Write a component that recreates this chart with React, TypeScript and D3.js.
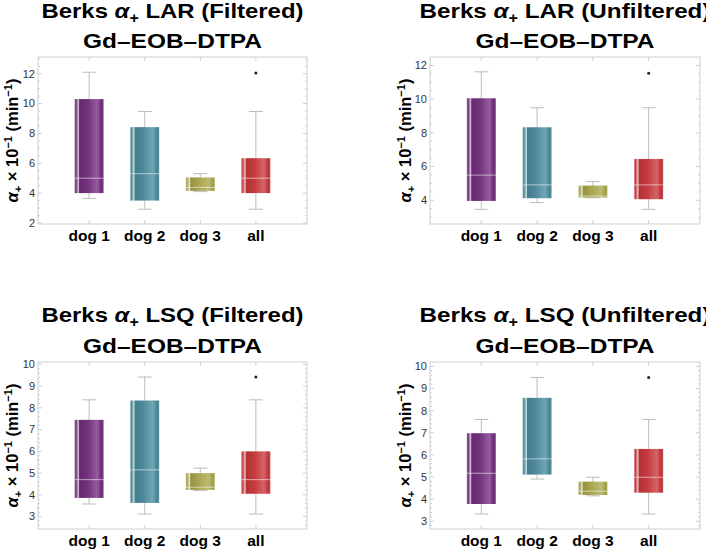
import { useEffect, useRef } from 'react'
import * as d3 from 'd3'

const categories = ['dog 1', 'dog 2', 'dog 3', 'all']
const boxColors = ['#74307f', '#4c8b9c', '#a9a64e', '#c63a3e']

// five-number summaries per category: [min, q1, median, q3, max]
const larFilteredStats = [
  [3.65, 4.0, 5.0, 10.3, 12.1],
  [2.92, 3.5, 5.3, 8.42, 9.47],
  [4.1, 4.15, 4.38, 5.05, 5.3],
  [2.92, 4.0, 5.0, 6.34, 9.47],
]
const larFilteredOutliers = [[], [], [], [12.05]]

const larUnfilteredStats = [
  [3.46, 3.96, 5.49, 10.05, 11.62],
  [3.86, 4.12, 4.91, 8.33, 9.49],
  [4.15, 4.16, 4.25, 4.87, 5.11],
  [3.46, 4.06, 4.91, 6.45, 9.49],
]
const larUnfilteredOutliers = [[], [], [], [11.54]]

const lsqFilteredStats = [
  [3.58, 3.86, 4.7, 7.45, 8.37],
  [3.12, 3.63, 5.15, 8.34, 9.42],
  [4.2, 4.23, 4.35, 5.0, 5.23],
  [3.12, 4.05, 4.7, 6.0, 8.37],
]
const lsqFilteredOutliers = [[], [], [], [9.42]]

const lsqUnfilteredStats = [
  [3.33, 3.78, 5.17, 6.98, 7.6],
  [4.91, 5.11, 5.82, 8.58, 9.5],
  [4.15, 4.19, 4.36, 4.79, 4.99],
  [3.33, 4.29, 4.99, 6.27, 7.6],
]
const lsqUnfilteredOutliers = [[], [], [], [9.5]]

const larTicks = [2, 4, 6, 8, 10, 12]
const larUnfilteredTicks = [4, 6, 8, 10, 12]
const lsqTicks = [3, 4, 5, 6, 7, 8, 9, 10]

const panels = [
  { method: 'LAR', filter: '(Filtered)', stats: larFilteredStats, outliers: larFilteredOutliers,
    domain: [1.93, 13.12], ticks: larTicks, minor: 0.5,
    x0: 38, x1: 307, y0: 57, y1: 224, t1: 17.5, t2: 48, w1: 262, w2: 179, labelX: 18 },
  { method: 'LAR', filter: '(Unfiltered)', stats: larUnfilteredStats, outliers: larUnfilteredOutliers,
    domain: [2.59, 12.5], ticks: larUnfilteredTicks, minor: 0.5,
    x0: 430, x1: 700, y0: 57, y1: 224, t1: 17.5, t2: 48, w1: 291, w2: 179, labelX: 411 },
  { method: 'LSQ', filter: '(Filtered)', stats: lsqFilteredStats, outliers: lsqFilteredOutliers,
    domain: [2.43, 10.11], ticks: lsqTicks, minor: 0.2,
    x0: 38, x1: 307, y0: 362, y1: 529, t1: 321.5, t2: 353, w1: 262, w2: 179, labelX: 18 },
  { method: 'LSQ', filter: '(Unfiltered)', stats: lsqUnfilteredStats, outliers: lsqUnfilteredOutliers,
    domain: [2.65, 10.2], ticks: lsqTicks, minor: 0.2,
    x0: 430, x1: 700, y0: 362, y1: 529, t1: 321.5, t2: 353, w1: 291, w2: 179, labelX: 411 },
]

const FONT = "'Liberation Sans', Arial, Helvetica, sans-serif"

export default function App() {
  const svgRef = useRef<SVGSVGElement>(null)

  useEffect(() => {
    if (!svgRef.current) return
    const svg = d3.select(svgRef.current)
    svg.selectAll('*').remove()

    // glossy gradients for the boxes
    const defs = svg.append('defs')
    boxColors.forEach((c, i) => {
      const base = d3.color(c)!
      const light = d3.interpolateRgb(c, '#ffffff')
      const g = defs.append('linearGradient')
        .attr('id', `box-grad-${i}`)
        .attr('x1', 0).attr('x2', 1).attr('y1', 0).attr('y2', 0)
      const stops: [number, string][] = [
        [0, light(0.25)],
        [0.05, c],
        [0.1, light(0.45)],
        [0.13, light(0.7)],
        [0.17, base.darker(0.35).toString()],
        [0.45, c],
        [0.78, light(0.22)],
        [0.9, c],
        [0.95, base.darker(0.2).toString()],
        [1, light(0.15)],
      ]
      stops.forEach(([o, col]) => {
        g.append('stop').attr('offset', o).attr('stop-color', col)
      })
    })

    panels.forEach(p => {
      const g = svg.append('g')
      const x = d3.scalePoint<string>().domain(categories).range([p.x0, p.x1]).padding(0.92)
      const y = d3.scaleLinear().domain(p.domain).range([p.y1, p.y0])
      const cx = (p.x0 + p.x1) / 2

      // title
      const t1 = g.append('text')
        .attr('x', cx).attr('y', p.t1)
        .attr('text-anchor', 'middle')
        .attr('font-family', FONT).attr('font-weight', 'bold').attr('font-size', 21)
        .attr('textLength', p.w1).attr('lengthAdjust', 'spacingAndGlyphs')
      t1.append('tspan').text('Berks ')
      t1.append('tspan').attr('font-style', 'italic').text('α')
      t1.append('tspan').attr('font-size', 14).attr('dy', 5).text('+')
      t1.append('tspan').attr('dy', -5).text(` ${p.method} ${p.filter}`)

      g.append('text')
        .attr('x', cx).attr('y', p.t2)
        .attr('text-anchor', 'middle')
        .attr('font-family', FONT).attr('font-weight', 'bold').attr('font-size', 21)
        .attr('textLength', p.w2).attr('lengthAdjust', 'spacingAndGlyphs')
        .text('Gd–EOB–DTPA')

      // frame
      g.append('rect')
        .attr('x', p.x0).attr('y', p.y0)
        .attr('width', p.x1 - p.x0).attr('height', p.y1 - p.y0)
        .attr('fill', 'none').attr('stroke', '#cfcfcf').attr('stroke-width', 1)

      // frame ticks, major and minor on both sides
      const minorTicks = d3.range(Math.ceil(p.domain[0] / p.minor) * p.minor, p.domain[1], p.minor)
      minorTicks.forEach(v => {
        const isMajor = p.ticks.some(t => Math.abs(t - v) < 1e-6)
        const len = isMajor ? 4 : 2
        const yy = y(v)
        g.append('line').attr('x1', p.x0).attr('x2', p.x0 + len).attr('y1', yy).attr('y2', yy)
          .attr('stroke', '#cfcfcf')
        g.append('line').attr('x1', p.x1).attr('x2', p.x1 - len).attr('y1', yy).attr('y2', yy)
          .attr('stroke', '#cfcfcf')
      })
      categories.forEach(c => {
        const xx = x(c)!
        g.append('line').attr('x1', xx).attr('x2', xx).attr('y1', p.y1).attr('y2', p.y1 - 4).attr('stroke', '#cfcfcf')
        g.append('line').attr('x1', xx).attr('x2', xx).attr('y1', p.y0).attr('y2', p.y0 + 4).attr('stroke', '#cfcfcf')
      })

      // tick labels
      p.ticks.forEach(t => {
        g.append('text')
          .attr('x', p.x0 - 3).attr('y', y(t)).attr('dy', '0.35em')
          .attr('text-anchor', 'end')
          .attr('font-family', FONT).attr('font-size', 11).attr('fill', '#333')
          .text(t)
      })

      // category labels
      categories.forEach(c => {
        g.append('text')
          .attr('x', x(c)!).attr('y', p.y1 + 17)
          .attr('text-anchor', 'middle')
          .attr('font-family', FONT).attr('font-weight', 'bold').attr('font-size', 15.5)
          .text(c)
      })

      // y label
      const yl = g.append('text')
        .attr('transform', `translate(${p.labelX},${(p.y0 + p.y1) / 2}) rotate(-90)`)
        .attr('text-anchor', 'middle')
        .attr('font-family', FONT).attr('font-weight', 'bold').attr('font-size', 16.5)
      yl.append('tspan').attr('font-style', 'italic').text('α')
      yl.append('tspan').attr('font-size', 11).attr('dy', 4).text('+')
      yl.append('tspan').attr('dy', -4).text(' × 10')
      yl.append('tspan').attr('font-size', 11).attr('dy', -6).text('−1')
      yl.append('tspan').attr('dy', 6).text(' (min')
      yl.append('tspan').attr('font-size', 11).attr('dy', -6).text('−1')
      yl.append('tspan').attr('dy', 6).text(')')

      // boxes
      const boxW = 29
      const capW = 14
      p.stats.forEach((s, i) => {
        const [mn, q1, med, q3, mx] = s
        const xx = x(categories[i])!
        g.append('line').attr('x1', xx).attr('x2', xx).attr('y1', y(mx)).attr('y2', y(q3))
          .attr('stroke', '#bdbdbd')
        g.append('line').attr('x1', xx).attr('x2', xx).attr('y1', y(q1)).attr('y2', y(mn))
          .attr('stroke', '#bdbdbd')
        g.append('line').attr('x1', xx - capW / 2).attr('x2', xx + capW / 2).attr('y1', y(mx)).attr('y2', y(mx))
          .attr('stroke', '#bdbdbd')
        g.append('line').attr('x1', xx - capW / 2).attr('x2', xx + capW / 2).attr('y1', y(mn)).attr('y2', y(mn))
          .attr('stroke', '#bdbdbd')
        g.append('rect')
          .attr('x', xx - boxW / 2).attr('y', y(q3))
          .attr('width', boxW).attr('height', y(q1) - y(q3))
          .attr('fill', `url(#box-grad-${i})`)
        g.append('line').attr('x1', xx - boxW / 2).attr('x2', xx + boxW / 2).attr('y1', y(med)).attr('y2', y(med))
          .attr('stroke', '#ffffff').attr('stroke-opacity', 0.55).attr('stroke-width', 1)
        p.outliers[i].forEach(o => {
          g.append('circle').attr('cx', xx).attr('cy', y(o)).attr('r', 1.5).attr('fill', '#222')
        })
      })
    })
  }, [])

  return (
    <svg
      ref={svgRef}
      width={706}
      height={549}
      style={{ position: 'absolute', left: 0, top: 0, background: '#fff' }}
    />
  )
}
